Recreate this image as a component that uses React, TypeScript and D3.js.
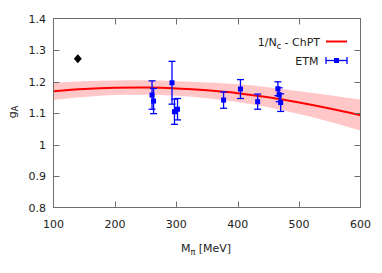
import React from "react";
import * as d3 from "d3";

const curveMpi = [100, 150, 200, 250, 300, 350, 400, 450, 500, 550, 600];
const curveGa = [1.169, 1.176, 1.180, 1.181, 1.178, 1.172, 1.163, 1.150, 1.133, 1.114, 1.093];
const curveErr = [0.027, 0.025, 0.023, 0.023, 0.023, 0.025, 0.028, 0.032, 0.036, 0.042, 0.049];

const etmMpi = [260.5, 263, 293, 297, 302, 377, 404.5, 432.5, 465.5, 467.5, 470];
const etmGa = [1.157, 1.138, 1.196, 1.104, 1.112, 1.141, 1.176, 1.136, 1.177, 1.158, 1.133];
const etmErr = [0.045, 0.040, 0.068, 0.040, 0.034, 0.026, 0.030, 0.024, 0.022, 0.022, 0.028];

const expMpi = [139.6];
const expGa = [1.2723];

const xTicks = [100, 200, 300, 400, 500, 600];
const yTicks = [0.8, 0.9, 1.0, 1.1, 1.2, 1.3, 1.4];

const W = 382, H = 273;
const L = 53.5, R = 360.5, T = 18.5, B = 207.5;
const axisColor = "#6e6e6e";
const font = "DejaVu Sans";

export default function App() {
  const x = d3.scaleLinear().domain([100, 600]).range([L, R]);
  const y = d3.scaleLinear().domain([0.8, 1.4]).range([B, T]);

  const idx = curveMpi.map((_, i) => i);
  const area = d3
    .area<number>()
    .x((i) => x(curveMpi[i]))
    .y0((i) => y(curveGa[i] - curveErr[i]))
    .y1((i) => y(curveGa[i] + curveErr[i]))
    .curve(d3.curveCatmullRom);
  const line = d3
    .line<number>()
    .x((i) => x(curveMpi[i]))
    .y((i) => y(curveGa[i]))
    .curve(d3.curveCatmullRom);

  const tickLen = 6;
  const blue = "#0000ff";

  return (
    <svg width={W} height={H} style={{ position: "absolute", left: 0, top: 0 }} fontFamily={font}>
      <rect x={0} y={0} width={W} height={H} fill="#fff" />
      <defs>
        <clipPath id="plot">
          <rect x={L} y={T} width={R - L} height={B - T} />
        </clipPath>
      </defs>
      <g clipPath="url(#plot)">
        <path d={area(idx) || ""} fill="#ffbdbd" opacity={0.85} />
        <path d={line(idx) || ""} fill="none" stroke="#ff0000" strokeWidth={2} />
      </g>
      {/* ETM points */}
      <g>
        {etmMpi.map((m, i) => {
          const cx = x(m);
          const yt = y(etmGa[i] + etmErr[i]);
          const yb = y(etmGa[i] - etmErr[i]);
          const cy = y(etmGa[i]);
          return (
            <g key={i}>
              <line x1={cx} x2={cx} y1={yt} y2={yb} stroke={blue} strokeWidth={1.3} />
              <line x1={cx - 3.5} x2={cx + 3.5} y1={yt} y2={yt} stroke={blue} strokeWidth={1.3} />
              <line x1={cx - 3.5} x2={cx + 3.5} y1={yb} y2={yb} stroke={blue} strokeWidth={1.3} />
              <rect x={cx - 2.5} y={cy - 2.5} width={5} height={5} fill={blue} />
            </g>
          );
        })}
      </g>
      {/* experimental diamond */}
      {expMpi.map((m, i) => {
        const cx = x(m), cy = y(expGa[i]);
        return (
          <path key={i} d={`M${cx},${cy - 4.5} L${cx + 4},${cy} L${cx},${cy + 4.5} L${cx - 4},${cy} Z`} fill="#000" />
        );
      })}
      {/* frame */}
      <rect x={L} y={T} width={R - L} height={B - T} fill="none" stroke={axisColor} strokeWidth={1} />
      {xTicks.map((t) => (
        <g key={"x" + t}>
          {t !== 100 && t !== 600 && (
            <>
              <line x1={Math.round(x(t)) + 0.5} x2={Math.round(x(t)) + 0.5} y1={B} y2={B - tickLen} stroke={axisColor} />
              <line x1={Math.round(x(t)) + 0.5} x2={Math.round(x(t)) + 0.5} y1={T} y2={T + tickLen} stroke={axisColor} />
            </>
          )}
          <text x={x(t)} y={228} textAnchor="middle" fontSize={11} fill="#222">
            {t}
          </text>
        </g>
      ))}
      {yTicks.map((t) => (
        <g key={"y" + t}>
          {t !== 0.8 && t !== 1.4 && (
            <>
              <line x1={L} x2={L + tickLen} y1={Math.round(y(t)) + 0.5} y2={Math.round(y(t)) + 0.5} stroke={axisColor} />
              <line x1={R} x2={R - tickLen} y1={Math.round(y(t)) + 0.5} y2={Math.round(y(t)) + 0.5} stroke={axisColor} />
            </>
          )}
          <text x={46} y={y(t) + 4} textAnchor="end" fontSize={11} fill="#222">
            {t === 1 ? "1" : t.toFixed(1)}
          </text>
        </g>
      ))}
      {/* axis labels */}
      <text x={206} y={252} textAnchor="middle" fontSize={11} fill="#222">
        M<tspan fontSize={8} dy={3}>π</tspan>
        <tspan dy={-3}> [MeV]</tspan>
      </text>
      <text transform={`translate(16,112) rotate(-90)`} textAnchor="middle" fontSize={11} fill="#222">
        g<tspan fontSize={8} dy={2}>A</tspan>
      </text>
      {/* legend */}
      <text x={320} y={45.5} textAnchor="end" fontSize={11} fill="#222">
        1/N<tspan fontSize={8} dy={3}>c</tspan>
        <tspan dy={-3}> - ChPT</tspan>
      </text>
      <line x1={326} x2={347} y1={41.5} y2={41.5} stroke="#ff0000" strokeWidth={2} />
      <text x={318.5} y={65} textAnchor="end" fontSize={11} fill="#222">
        ETM
      </text>
      <line x1={326} x2={347} y1={60.5} y2={60.5} stroke={blue} strokeWidth={1.3} />
      <line x1={326} x2={326} y1={57} y2={64} stroke={blue} strokeWidth={1.3} />
      <line x1={347} x2={347} y1={57} y2={64} stroke={blue} strokeWidth={1.3} />
      <rect x={334} y={58} width={5} height={5} fill={blue} />
    </svg>
  );
}
